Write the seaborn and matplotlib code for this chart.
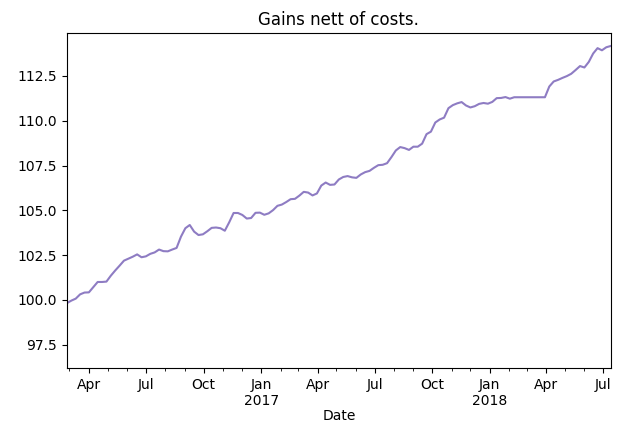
import pandas as pd
import seaborn as sns
import matplotlib
matplotlib.use("Agg")
import matplotlib.pyplot as plt
import matplotlib.dates as mdates
from matplotlib.ticker import FuncFormatter

## Weekly equity values (gains nett of costs)
start_date = "2016-02-26"
gains = [
    99.82, 99.96, 100.07, 100.31, 100.41, 100.42, 100.71, 101.00, 101.00, 101.02,
    101.35, 101.64, 101.91, 102.19, 102.30, 102.41, 102.54, 102.38, 102.43, 102.57,
    102.65, 102.81, 102.72, 102.71, 102.81, 102.90, 103.53, 104.00, 104.18, 103.81,
    103.62, 103.66, 103.83, 104.02, 104.04, 104.00, 103.86, 104.33, 104.85, 104.85,
    104.74, 104.54, 104.57, 104.86, 104.87, 104.75, 104.83, 105.01, 105.25, 105.32,
    105.46, 105.62, 105.64, 105.82, 106.03, 105.99, 105.83, 105.94, 106.38, 106.55,
    106.42, 106.44, 106.72, 106.86, 106.91, 106.84, 106.81, 107.00, 107.13, 107.20,
    107.37, 107.52, 107.54, 107.63, 107.97, 108.34, 108.53, 108.47, 108.37, 108.55,
    108.55, 108.72, 109.25, 109.39, 109.90, 110.07, 110.17, 110.70, 110.87, 110.97,
    111.04, 110.85, 110.74, 110.81, 110.94, 110.99, 110.95, 111.05, 111.26, 111.27,
    111.32, 111.23, 111.31, 111.31, 111.31, 111.31, 111.31, 111.31, 111.31, 111.31,
    111.91, 112.19, 112.28, 112.39, 112.49, 112.62, 112.83, 113.05, 112.97, 113.28,
    113.75, 114.05, 113.93, 114.10, 114.17,
]
dates = pd.date_range(start_date, periods=len(gains), freq="W-FRI")
df = pd.DataFrame({"Date": dates, "gains": gains})

fig, ax = plt.subplots(figsize=(6.2, 4.22), dpi=100)
fig.subplots_adjust(left=0.108, right=0.985, top=0.922, bottom=0.128)

sns.lineplot(data=df, x="Date", y="gains", ax=ax, color="#8e7cc3", lw=1.5)

# pandas-style date axis: quarterly labels, year under January
def quarter_fmt(x, pos):
    d = mdates.num2date(x)
    return d.strftime("%b\n%Y") if d.month == 1 else d.strftime("%b")

ax.xaxis.set_major_locator(mdates.MonthLocator(bymonth=[1, 4, 7, 10]))
ax.xaxis.set_major_formatter(FuncFormatter(quarter_fmt))
ax.xaxis.set_minor_locator(mdates.MonthLocator())
ax.set_xlim(dates[0], dates[-1])
ax.set_ylim(96.2, 114.9)

ax.set_title("Gains nett of costs.")
ax.set_xlabel("Date", labelpad=1)
ax.set_ylabel("")

fig.savefig("out.png", dpi=100)
